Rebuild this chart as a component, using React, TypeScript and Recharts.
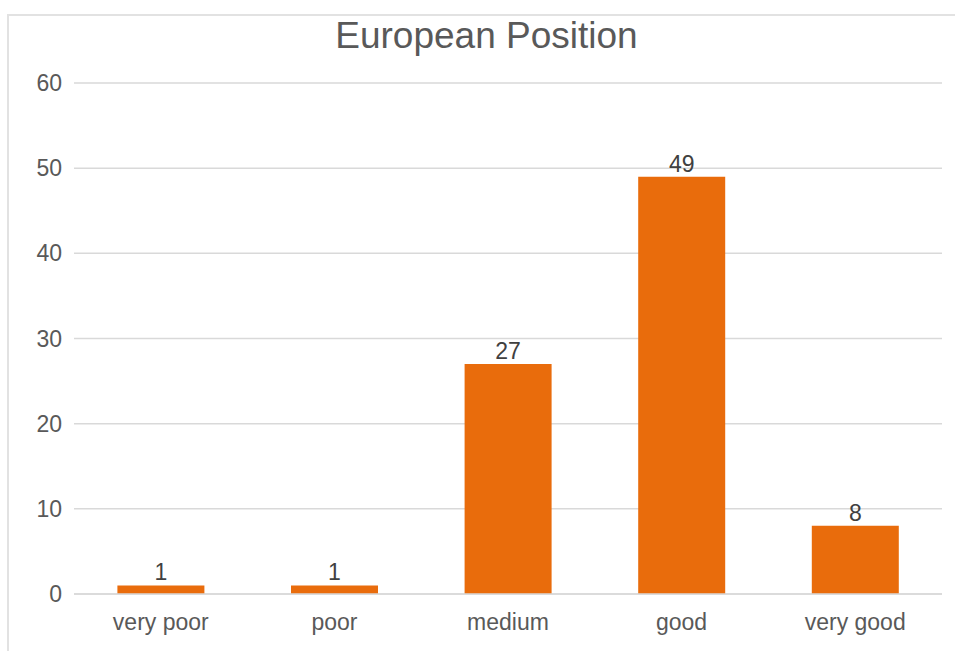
import React from "react";
import { BarChart, Bar, XAxis, YAxis, CartesianGrid, LabelList } from "recharts";

const categories = ["very poor", "poor", "medium", "good", "very good"];
const counts = [1, 1, 27, 49, 8];
const yTicks = [0, 10, 20, 30, 40, 50, 60];

const data = categories.map((name, i) => ({ name, value: counts[i] }));

const FONT = '"Liberation Sans", Arial, sans-serif';
const TEXT = "#595959";

export default function App() {
  return (
    <div
      style={{
        position: "absolute",
        left: 0,
        top: 0,
        width: 955,
        height: 651,
        background: "#fff",
        fontFamily: FONT,
        overflow: "hidden",
      }}
    >
      {/* frame */}
      <div
        style={{
          position: "absolute",
          left: 7,
          top: 14,
          width: 960,
          height: 660,
          borderTop: "2px solid #e2e2e2",
          borderLeft: "2px solid #e2e2e2",
        }}
      />
      <div
        style={{
          position: "absolute",
          left: 0,
          width: 973,
          top: 17,
          textAlign: "center",
          fontSize: 37,
          lineHeight: "37px",
          color: TEXT,
        }}
      >
        European Position
      </div>
      <div style={{ position: "absolute", left: 0, top: 0 }}>
        <BarChart
          width={955}
          height={651}
          data={data}
          margin={{ top: 83, right: 13, bottom: 16, left: 0 }}
          barCategoryGap="25%"
        >
          <CartesianGrid vertical={false} stroke="#d9d9d9" strokeWidth={1.5} />
          <XAxis
            dataKey="name"
            height={41}
            axisLine={{ stroke: "#d9d9d9", strokeWidth: 1.5 }}
            tickLine={false}
            tickMargin={14}
            tick={{ fill: TEXT, fontSize: 23, fontFamily: FONT }}
          />
          <YAxis
            width={74}
            domain={[0, 60]}
            ticks={yTicks}
            axisLine={false}
            tickLine={false}
            tickMargin={6}
            tick={{ fill: TEXT, fontSize: 23, fontFamily: FONT }}
          />
          <Bar dataKey="value" fill="#E96C0C" isAnimationActive={false}>
            <LabelList
              dataKey="value"
              position="top"
              offset={5}
              fill="#404040"
              fontSize={23}
              fontFamily={FONT}
            />
          </Bar>
        </BarChart>
      </div>
    </div>
  );
}
